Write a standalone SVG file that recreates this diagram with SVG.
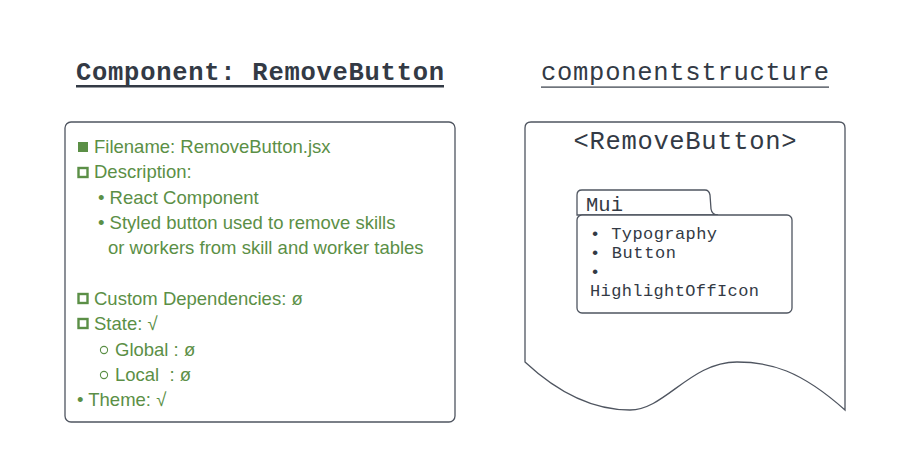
<svg xmlns="http://www.w3.org/2000/svg" width="905" height="462" viewBox="0 0 905 462">
<style>
.g{font-family:"Liberation Sans",Arial,sans-serif;font-size:18.5px;fill:#5b8f46}
.m{font-family:"Liberation Mono","DejaVu Sans Mono",monospace;fill:#333a45}
.box{fill:#fff;stroke:#4f5560;stroke-width:1.3}
.sq{fill:none;stroke:#5b8f46;stroke-width:2.4}
.ci{fill:none;stroke:#5b8f46;stroke-width:1.1}
</style>
<rect width="905" height="462" fill="#fff"/>
<g id="title-left">
<text class="m" x="76" y="80" font-size="25.5" font-weight="bold" textLength="368" lengthAdjust="spacing">Component: RemoveButton</text>
<rect x="76" y="85" width="368" height="2.5" fill="#333a45"/>
</g>
<g id="title-right">
<text class="m" x="541" y="80" font-size="25.5" textLength="288" lengthAdjust="spacing">componentstructure</text>
<rect x="541" y="86.5" width="288" height="1.2" fill="#333a45"/>
</g>
<g id="info-box">
<rect class="box" x="65" y="122" width="390" height="300" rx="6"/>
<rect x="78" y="142" width="10" height="10" fill="#5b8f46"/>
<text class="g" x="94" y="153">Filename: RemoveButton.jsx</text>
<rect class="sq" x="78.5" y="168" width="9" height="9"/>
<text class="g" x="94" y="178">Description:</text>
<text class="g" x="98" y="204">• React Component</text>
<text class="g" x="98" y="229">• Styled button used to remove skills</text>
<text class="g" x="108" y="254">or workers from skill and worker tables</text>
<rect class="sq" x="78.5" y="294" width="9" height="9"/>
<text class="g" x="94" y="305">Custom Dependencies: ø</text>
<rect class="sq" x="78.5" y="319" width="9" height="9"/>
<text class="g" x="94" y="330">State: √</text>
<circle class="ci" cx="104" cy="350" r="3.6"/>
<text class="g" x="115" y="356">Global : ø</text>
<circle class="ci" cx="104" cy="375" r="3.6"/>
<text class="g" x="115" y="381" xml:space="preserve">Local  : ø</text>
<text class="g" x="77" y="406">• Theme: √</text>
</g>
<g id="structure-doc">
<path class="box" d="M525,362 L525,128 Q525,122 531,122 L839,122 Q845,122 845,128 L845,410 C800,370 770,362 737,362 C690,362 665,410 630,410 C590,410 555,390 525,362 Z"/>
<text class="m" x="685" y="149" font-size="25.5" text-anchor="middle" textLength="223" lengthAdjust="spacing">&lt;RemoveButton&gt;</text>
</g>
<g id="mui-package">
<path class="box" d="M577,215 L577,195 Q577,190 582,190 L705,190 Q709,190 710,195 L711,209 Q712,215 718,215 Z"/>
<rect class="box" x="577" y="215" width="215" height="98" rx="5"/>
<text class="m" x="586" y="211" font-size="20.5" textLength="37" lengthAdjust="spacing">Mui</text>
<text class="m" x="590" y="239" font-size="17" textLength="127" lengthAdjust="spacing">• Typography</text>
<text class="m" x="590" y="258" font-size="17" textLength="86" lengthAdjust="spacing">• Button</text>
<text class="m" x="590" y="277" font-size="17">•</text>
<text class="m" x="590" y="296" font-size="17" textLength="169" lengthAdjust="spacing">HighlightOffIcon</text>
</g>
</svg>
